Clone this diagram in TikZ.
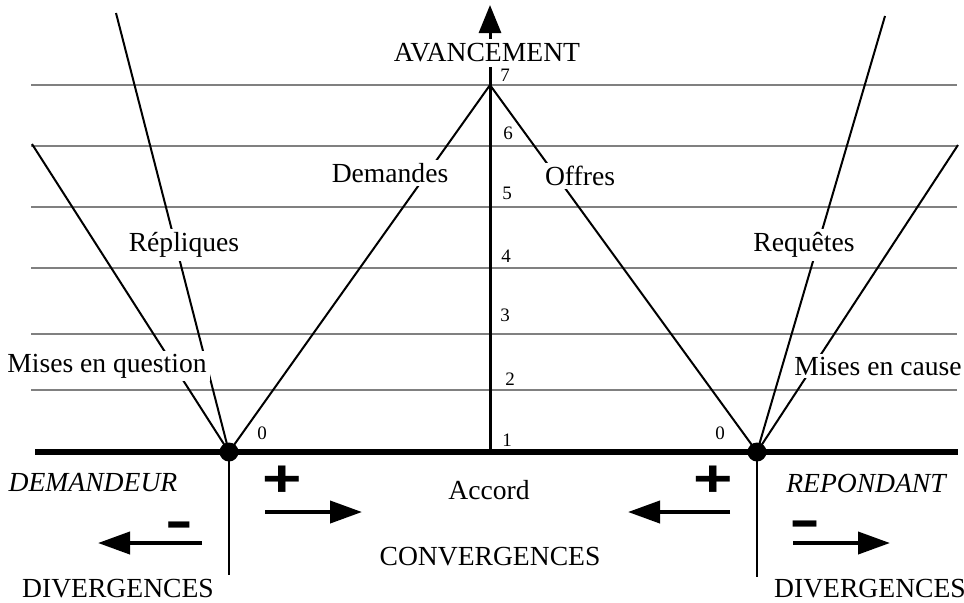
\documentclass[tikz,border=0pt]{standalone}
\usepackage{fontspec}
\setmainfont{Liberation Serif}
\newfontfamily\signfont{Liberation Sans}
\usetikzlibrary{arrows.meta}

\begin{document}
\begin{tikzpicture}[x=0.5pt,y=-0.5pt,
        level/.style={draw=gray,line width=0.6pt},
        ray/.style={line width=1pt},
        lbl/.style={fill=white,inner sep=1.5pt,font=\fontsize{13.8}{16}\selectfont},
        txt/.style={inner sep=1pt,font=\fontsize{13.8}{16}\selectfont},
        num/.style={inner sep=0pt,font=\fontsize{9.5}{10}\selectfont},
        sign/.style={inner sep=0pt,font=\signfont\bfseries\fontsize{26}{26}\selectfont},
        move/.style={line width=2pt,-{Triangle[length=16pt,width=11pt]}}]
    \useasboundingbox (0,0) rectangle (964,602);
    % levels of progress
    \foreach \y in {85,146,207,268,334,390}
        \draw[level] (31,\y) -- (957,\y);
    % main points
    \coordinate (dem) at (229,452);
    \coordinate (rep) at (757,452);
    \coordinate (apex) at (490,85);
    \coordinate (demtop) at (116,13);
    \coordinate (demleft) at (32,144);
    \coordinate (reptop) at (885,16);
    \coordinate (repright) at (958,145);
    \coordinate (axisbot) at (490,452);
    \coordinate (axistop) at (490,5);
    \coordinate (demdrop) at (229,575);
    \coordinate (repdrop) at (757,577);
    \draw[ray] (dem) -- (demtop);
    \draw[ray] (dem) -- (demleft);
    \draw[ray] (dem) -- (apex) -- (rep);
    \draw[ray] (rep) -- (reptop);
    \draw[ray] (rep) -- (repright);
    \draw[line width=1.5pt,-{Triangle[length=14pt,width=11pt]}] (axisbot) -- (axistop);
    \draw[line width=3pt] (35,452) -- (958,452);
    \draw[line width=1.2pt] (dem) -- (demdrop);
    \draw[line width=1.2pt] (rep) -- (repdrop);
    \fill (dem) circle (9.5);
    \fill (rep) circle (9.5);
    % labels
    \node[lbl,inner ysep=2.5pt] (avance) at (487,53) {AVANCEMENT};
    \node[lbl] (mq) at (107,366) {Mises en question};
    \node[lbl] (repl) at (184,245) {Répliques};
    \node[lbl] (dmd) at (390,173) {Demandes};
    \node[lbl] (off) at (580,176) {Offres};
    \node[lbl] (req) at (804,245) {Requêtes};
    \node[lbl] (mc) at (878,366) {Mises en cause};
    \foreach \n/\x/\y in {7/505/75,6/508/133,5/507/193,4/506/256,3/505/315,2/510/379,1/507/440}
        \node[num] (n\n) at (\x,\y) {\n};
    \node[num] (z1) at (262,433) {0};
    \node[num] (z2) at (720,433) {0};
    \node[txt,font=\fontsize{13.8}{16}\selectfont\itshape] (demandeur) at (93,483) {DEMANDEUR};
    \node[txt,font=\fontsize{13.8}{16}\selectfont\itshape] (repondant) at (866,483) {REPONDANT};
    \node[txt] (accord) at (489,490) {Accord};
    \node[txt] (conv) at (490,557) {CONVERGENCES};
    \node[txt] (div1) at (118,589) {DIVERGENCES};
    \node[txt] (div2) at (870,589) {DIVERGENCES};
    % directions
    \node[sign,xscale=1.3] (p1) at (282,481) {+};
    \node[sign,xscale=1.3] (p2) at (713,481) {+};
    \node[sign,xscale=1.6] (m1) at (179,530) {-};
    \node[sign,xscale=1.8] (m2) at (805,529) {-};
    \draw[move] (265,512) -- (362,512);
    \draw[move] (202,543) -- (98,543);
    \draw[move] (730,512) -- (628,512);
    \draw[move] (793,543) -- (890,543);
\end{tikzpicture}
\end{document}
